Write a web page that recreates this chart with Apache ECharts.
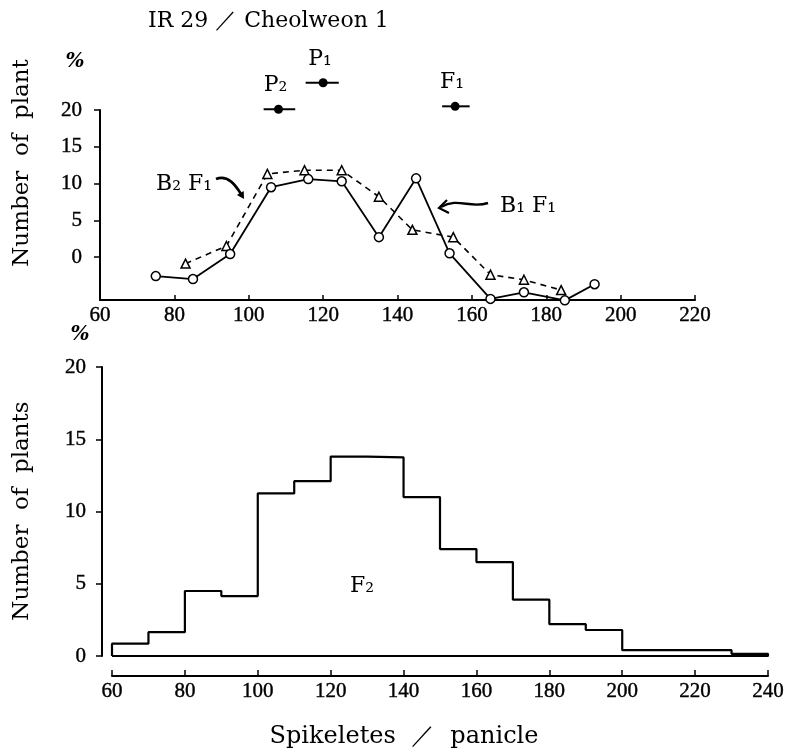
<!DOCTYPE html>
<html><head><meta charset="utf-8">
<script src="https://cdn.jsdelivr.net/npm/echarts@6/dist/echarts.min.js"></script>
<style>html,body{margin:0;padding:0;background:#fff}#c{width:795px;height:754px}</style>
</head><body><div id="c"></div>
<script>
// Top panel: backcross distributions (% of plants)
const b1f1X = [75, 85, 95, 106, 116, 125, 135, 145, 154, 165, 174, 185, 193];
const b1f1Y = [-2.6, -3.0, 0.4, 9.5, 10.6, 10.3, 2.7, 10.7, 0.5, -5.7, -4.8, -5.9, -3.7];
const b2f1X = [83, 94, 105, 115, 125, 135, 144, 155, 165, 174, 184];
const b2f1Y = [-0.9, 1.5, 11.3, 11.8, 11.8, 8.2, 3.7, 2.7, -2.4, -3.1, -4.5];
// Parents and F1: mean with range
const parentNames = ['P₁', 'P₂', 'F₁'];
const parentMean = [120, 108, 155.5];
const parentLow = [115.3, 104, 152];
const parentHigh = [124.2, 112.5, 159.4];
const parentLevel = [23.7, 20.1, 20.5];
// Bottom panel: F2 histogram
const binEdges = [60, 70, 80, 90, 100, 110, 120, 130, 140, 150, 160, 170, 180, 190, 200, 210, 220, 230, 240];
const f2Pct = [0.85, 1.65, 4.5, 4.15, 11.25, 12.1, 13.8, 13.75, 11.0, 7.4, 6.5, 3.9, 2.2, 1.8, 0.4, 0.4, 0.4, 0.15];
// Tick labels
const topYTicks = [0, 5, 10, 15, 20];
const topXRange = [60, 220];
const bottomXRange = [60, 240];
const bottomYRange = [0, 20];

const serif = '"DejaVu Serif", "Liberation Serif", serif';
const numFont = '"Liberation Serif", "DejaVu Serif", serif';
const ink = '#000';

const histPts = [[binEdges[0], 0]];
f2Pct.forEach((h, i) => { histPts.push([binEdges[i], h]); histPts.push([binEdges[i + 1], h]); });
histPts.push([binEdges[binEdges.length - 1], 0]);
histPts.push([binEdges[0], 0]);

const axisLbl = { fontFamily: numFont, fontSize: 21, fontWeight: 'normal', color: ink, textBorderColor: ink, textBorderWidth: 0.4 };
const chart = echarts.init(document.getElementById('c'), null, { renderer: 'canvas' });
chart.setOption({
  animation: false,
  backgroundColor: '#fff',
  grid: [
    { left: 100, right: 100, top: 110, bottom: 454 },
    { left: 112, right: 27, top: 367, bottom: 98 }
  ],
  xAxis: [
    { gridIndex: 0, type: 'value', min: topXRange[0], max: topXRange[1], interval: 20,
      axisLine: { onZero: false, lineStyle: { color: ink, width: 2 } },
      axisTick: { inside: true, length: 5, lineStyle: { color: ink, width: 1.5 } },
      axisLabel: Object.assign({ margin: 5 }, axisLbl), splitLine: { show: false } },
    { gridIndex: 1, type: 'value', min: bottomXRange[0], max: bottomXRange[1], interval: 20, offset: 20,
      axisLine: { onZero: false, lineStyle: { color: ink, width: 2 } },
      axisTick: { inside: true, length: 6, lineStyle: { color: ink, width: 1.5 } },
      axisLabel: Object.assign({ margin: 5 }, axisLbl), splitLine: { show: false } }
  ],
  yAxis: [
    { gridIndex: 0, type: 'value', min: -5.85, max: 20,
      axisLine: { show: true, onZero: false, lineStyle: { color: ink, width: 2 } },
      axisTick: { show: true, length: 6, customValues: topYTicks, lineStyle: { color: ink, width: 1.5 } },
      axisLabel: Object.assign({ margin: 18, customValues: topYTicks }, axisLbl), splitLine: { show: false } },
    { gridIndex: 1, type: 'value', min: bottomYRange[0], max: bottomYRange[1], interval: 5, offset: 10,
      axisLine: { show: true, onZero: false, lineStyle: { color: ink, width: 2 } },
      axisTick: { show: true, length: 6, lineStyle: { color: ink, width: 1.5 } },
      axisLabel: Object.assign({ margin: 16 }, axisLbl), splitLine: { show: false } }
  ],
  series: [
    { name: 'B1F1', type: 'line', xAxisIndex: 0, yAxisIndex: 0,
      data: b1f1X.map((x, i) => [x, b1f1Y[i]]), clip: false,
      symbol: 'circle', symbolSize: 9,
      itemStyle: { color: '#fff', borderColor: ink, borderWidth: 1.5 },
      lineStyle: { color: ink, width: 1.8 }, z: 3 },
    { name: 'B2F1', type: 'line', xAxisIndex: 0, yAxisIndex: 0,
      data: b2f1X.map((x, i) => [x, b2f1Y[i]]), clip: false,
      symbol: 'triangle', symbolSize: 9,
      itemStyle: { color: '#fff', borderColor: ink, borderWidth: 1.5 },
      lineStyle: { color: ink, width: 1.6, type: [6, 5] }, z: 2 },
    { name: 'Parents', type: 'custom', xAxisIndex: 0, yAxisIndex: 0, clip: false,
      data: parentMean.map((m, i) => [m, parentLevel[i], parentLow[i], parentHigh[i]]),
      renderItem(params, api) {
        const c = api.coord([api.value(0), api.value(1)]);
        const lo = api.coord([api.value(2), api.value(1)]);
        const hi = api.coord([api.value(3), api.value(1)]);
        return { type: 'group', children: [
          { type: 'line', shape: { x1: lo[0], y1: lo[1], x2: hi[0], y2: hi[1] }, style: { stroke: ink, lineWidth: 2 } },
          { type: 'circle', shape: { cx: c[0], cy: c[1], r: 4.5 }, style: { fill: ink } },
          { type: 'text', x: c[0] - 3, y: c[1] - 24, style: { text: parentNames[params.dataIndex], font: '22px ' + serif, fill: ink, textAlign: 'center', textVerticalAlign: 'middle' } }
        ] };
      } },
    { name: 'F2', type: 'line', xAxisIndex: 1, yAxisIndex: 1, data: histPts,
      symbol: 'none', lineStyle: { color: ink, width: 2.2 } }
  ],
  graphic: [
    { type: 'text', x: 148, y: 21, style: { text: 'IR 29 ／ Cheolweon 1', font: '22px ' + serif, fill: ink, textVerticalAlign: 'middle' } },
    { type: 'text', x: 75, y: 62, style: { text: '%', font: 'italic bold 20px ' + serif, fill: ink, textAlign: 'center', textVerticalAlign: 'middle' } },
    { type: 'text', x: 80, y: 335, style: { text: '%', font: 'italic bold 20px ' + serif, fill: ink, textAlign: 'center', textVerticalAlign: 'middle' } },
    { type: 'text', x: 22, y: 163, rotation: Math.PI / 2, style: { text: 'Number  of  plant', font: '23px ' + serif, fill: ink, textAlign: 'center', textVerticalAlign: 'middle' } },
    { type: 'text', x: 22, y: 511, rotation: Math.PI / 2, style: { text: 'Number  of  plants', font: '23px ' + serif, fill: ink, textAlign: 'center', textVerticalAlign: 'middle' } },
    { type: 'text', x: 404, y: 737, style: { text: 'Spikeletes  ／  panicle', font: '24px ' + serif, fill: ink, textAlign: 'center', textVerticalAlign: 'middle' } },
    { type: 'text', x: 184, y: 184, style: { text: 'B₂ F₁', font: '22px ' + serif, fill: ink, textAlign: 'center', textVerticalAlign: 'middle' } },
    { type: 'text', x: 528, y: 206, style: { text: 'B₁ F₁', font: '22px ' + serif, fill: ink, textAlign: 'center', textVerticalAlign: 'middle' } },
    { type: 'text', x: 362, y: 586, style: { text: 'F₂', font: '22px ' + serif, fill: ink, textAlign: 'center', textVerticalAlign: 'middle' } },
    { type: 'bezierCurve', shape: { x1: 216, y1: 179, cpx1: 228, cpy1: 174, cpx2: 236, cpy2: 186, x2: 241, y2: 194 }, style: { stroke: ink, lineWidth: 2.6, fill: null } },
    { type: 'polygon', shape: { points: [[244, 199], [236.9, 195.1], [243.7, 190.9]] }, style: { fill: ink } },
    { type: 'bezierCurve', shape: { x1: 488, y1: 203, cpx1: 470, cpy1: 209, cpx2: 458, cpy2: 197, x2: 441, y2: 207 }, style: { stroke: ink, lineWidth: 2.4, fill: null } },
    { type: 'polyline', shape: { points: [[447, 200], [439, 208], [449, 213]] }, style: { stroke: ink, lineWidth: 2.2, fill: null } }
  ]
});
</script>
</body></html>
